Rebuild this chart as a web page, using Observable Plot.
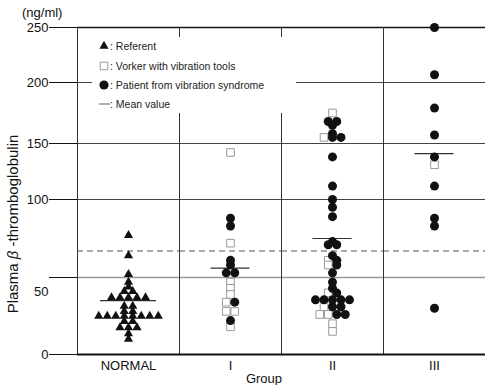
<!DOCTYPE html>
<html>
<head>
<meta charset="utf-8">
<script src="https://cdn.jsdelivr.net/npm/d3@7"></script>
<script src="https://cdn.jsdelivr.net/npm/@observablehq/plot@0.6"></script>
<style>
  html, body { margin: 0; padding: 0; background: white; }
</style>
</head>
<body>
<div id="chart"></div>
<script>
// ---- data ----
const groups = ["NORMAL", "I", "II", "III"];
const yTicks = [0, 50, 100, 150, 200, 250];

const normalReferent = [77, 64, 52, 47, 44, 41, 41, 37, 37, 37, 37, 37, 31.5, 31.5, 28, 28,
  25, 25, 25, 25, 25, 25, 25, 25, 21.5, 21.5, 17.5, 17.5, 17.5, 13.5, 10];

const groupIWorker = [142, 72, 47, 43, 39, 34, 28, 28, 18];
const groupIPatient = [88, 83, 61, 58, 53, 53, 34, 22];

const groupIIWorker = [175, 155, 61, 58, 40, 31, 26, 26, 20, 15];
const groupIIPatient = [168, 168, 165, 158, 155, 155, 138, 112, 100, 95, 89, 73, 71, 71, 64, 61, 58,
  53, 47, 43, 40, 35.5, 35.5, 35.5, 35.5, 35.5, 31, 31, 26, 26];

const groupIIIWorker = [131];
const groupIIIPatient = [250, 207, 179, 157, 138, 112, 88, 83, 30];

const groupMeans = [35, 56, 75, 141];
const dashedLevel = 67;

const legendLabels = [": Referent", ": Vorker with vibration tools", ": Patient from vibration syndrome", ": Mean value"];

// ---- build table ----
const data = [];
function add(group, type, values) { for (const v of values) data.push({group, type, value: v}); }
add("NORMAL", "Referent", normalReferent);
add("I", "Worker", groupIWorker); add("I", "Patient", groupIPatient);
add("II", "Worker", groupIIWorker); add("II", "Patient", groupIIPatient);
add("III", "Worker", groupIIIWorker); add("III", "Patient", groupIIIPatient);

// spread points sharing the same value side by side
const counts = d3.rollup(data, v => v.length, d => d.group, d => d.value);
const seen = new Map();
for (const d of data) {
  const key = d.group + "|" + d.value;
  const k = seen.get(key) ?? 0;
  seen.set(key, k + 1);
  d.slot = k - (counts.get(d.group).get(d.value) - 1) / 2;
}
const means = groups.map((g, i) => ({group: g, mean: groupMeans[i]}));

const chart = Plot.plot({
  width: 486,
  height: 385,
  marginLeft: 76,
  marginRight: 0,
  marginTop: 27,
  marginBottom: 31,
  style: {fontFamily: "'Liberation Sans', Arial, sans-serif", fontSize: "13px", color: "#111", background: "white", overflow: "visible"},
  x: {type: "linear", domain: [-6, 6], axis: null},
  y: {type: "linear", domain: yTicks, range: [354, 277, 199, 143, 82, 27], ticks: yTicks, tickSize: 28, tickPadding: 1, label: null},
  fx: {domain: groups, padding: 0, axis: "bottom", tickSize: 0, tickPadding: 6, label: null},
  marks: [
    Plot.ruleY([100, 150, 200], {stroke: "#444", strokeWidth: 1}),
    Plot.ruleY([50], {stroke: "#999", strokeWidth: 1.5}),
    Plot.ruleY([dashedLevel], {stroke: "#555", strokeWidth: 1.2, strokeDasharray: "6,4"}),
    Plot.ruleY([250], {stroke: "#111", strokeWidth: 1.4}),
    Plot.ruleX([-6], {y1: 0, y2: 250, stroke: "#333", strokeWidth: 1}),
    Plot.ruleY([0], {stroke: "#111", strokeWidth: 2}),
    Plot.ruleY(means, {fx: "group", y: "mean", x1: d => d.group === "NORMAL" ? -3.3 : -2.3, x2: d => d.group === "NORMAL" ? 3.3 : 2.3, stroke: "#333", strokeWidth: 1.2}),
    Plot.dot(data.filter(d => d.type === "Referent"), {fx: "group", x: "slot", y: "value", symbol: "triangle", r: 3.4, fill: "#111"}),
    Plot.dot(data.filter(d => d.type === "Worker"), {fx: "group", x: "slot", y: "value", symbol: "square", r: 4.3, fill: "white", stroke: "#999", strokeWidth: 1}),
    Plot.dot(data.filter(d => d.type === "Patient"), {fx: "group", x: "slot", y: "value", symbol: "circle", r: 4.5, fill: "#111"})
  ]
});

document.getElementById("chart").appendChild(chart);

const svg = d3.select(chart);
const font = "'Liberation Sans', Arial, sans-serif";

// shift the "50" tick label a bit below its line, as in the original
svg.selectAll("text").filter(function () { return this.textContent === "50"; })
  .attr("dy", "1.1em");

// unit label
svg.append("text").attr("x", 22).attr("y", 17).attr("text-anchor", "start").attr("font-family", font).attr("font-size", 13)
  .attr("fill", "#111").text("(ng/ml)");

// y-axis title
const yt = svg.append("text").attr("transform", "translate(18,224) rotate(-90)")
  .attr("text-anchor", "middle").attr("font-family", font).attr("font-size", 15).attr("fill", "#111");
yt.append("tspan").text("Plasma ");
yt.append("tspan").attr("font-style", "italic").text("β");
yt.append("tspan").text(" -thromboglobulin");

// x-axis title
svg.append("text").attr("x", 264).attr("y", 383).attr("text-anchor", "middle")
  .attr("font-family", font).attr("font-size", 13).attr("fill", "#111").text("Group");

// legend
const lg = svg.append("g").attr("text-anchor", "start");
lg.append("rect").attr("x", 92).attr("y", 37).attr("width", 204).attr("height", 76).attr("fill", "white");
const rowsY = [46, 66, 85, 104];
const syms = [
  {sym: d3.symbolTriangle, r: 3.4, fill: "#111", stroke: "none"},
  {sym: d3.symbolSquare, r: 4.3, fill: "white", stroke: "#999"},
  {sym: d3.symbolCircle, r: 4.6, fill: "#111", stroke: "none"},
  null
];
legendLabels.forEach((label, i) => {
  const y = rowsY[i];
  const s = syms[i];
  if (s) {
    lg.append("path").attr("transform", `translate(104,${y})`)
      .attr("d", d3.symbol(s.sym, Math.PI * s.r * s.r)())
      .attr("fill", s.fill).attr("stroke", s.stroke);
  } else {
    lg.append("line").attr("x1", 99).attr("x2", 110).attr("y1", y).attr("y2", y)
      .attr("stroke", "#777").attr("stroke-width", 1.2);
  }
  lg.append("text").attr("x", 110).attr("y", y + 3.8).attr("text-anchor", "start").attr("font-family", font)
    .attr("font-size", 10.5).attr("fill", "#222").text(label);
});
</script>
</body>
</html>
